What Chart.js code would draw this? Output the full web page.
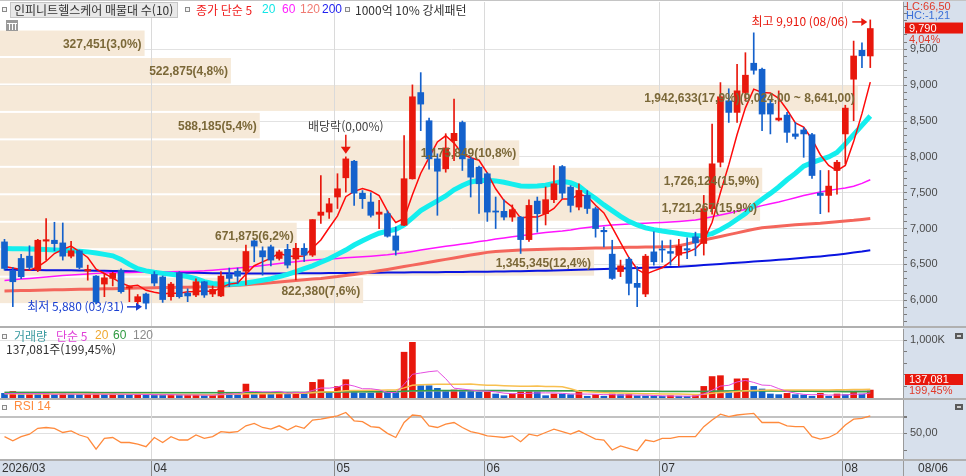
<!DOCTYPE html>
<html lang="ko">
<head>
<meta charset="utf-8">
<title>인피니트헬스케어</title>
<script src="https://cdn.jsdelivr.net/npm/chart.js@4.4.1/dist/chart.umd.min.js"></script>
<style>
html,body{margin:0;padding:0;background:#fff;}
#wrap{position:relative;width:966px;height:476px;overflow:hidden;background:#fff;}
#axisBg{position:absolute;left:903px;top:0;width:63px;height:476px;background:#d7e0ec;}
canvas{position:absolute;left:0;}
</style>
</head>
<body>
<div id="wrap">
<div id="axisBg"></div>
<canvas id="cMain" width="966" height="328" style="top:0px"></canvas>
<canvas id="cVol" width="966" height="71" style="top:328px"></canvas>
<canvas id="cRsi" width="966" height="77" style="top:399px"></canvas>
</div>
<script>
// ---------- DATA ----------
const monthLabels = ['2026/03','04','05','06','07','08'];
const monthStart  = [0,18,40,58,79,101];
const lastDate = '08/06';

const opens = [6814,6411,6583,6615,6420,6825,6837,6800,6615,6690, 6408,6337,6226,6305,6420,6170,5980,6087,6360,6325,
 6050,6383,6100,6073,6258,6087,6060,6360,6405,6405, 6828,6690,6745,6583,6710,6575,6725,6630,7185,7230,
 7440,7708,7939,7494,7370,7200,7208,6897,7046,7694, 8897,8504,7972,7833,8226,8480,7972,7856,7764,7245,
 7240,7160,7160,6846,7383,7208,7403,7865,7578,7300, 7463,7277,6975,6643,6400,6573,6236,6087,6675,6715,
 6680,6630,6720,6884,6792,7277,7925,8782,8620,8897, 9306,9222,8744,8514,8583,8320,8375,8310,7494,7462,
 7810,8320,9083,9486,9407];
const highs = [6850,6458,6640,6760,6850,7140,7088,7078,6823,6700, 6490,6345,6375,6390,6440,6200,6080,6100,6400,6340,
 6250,6400,6160,6300,6265,6200,6400,6450,6450,6770, 6835,6745,6770,6700,6780,6795,6790,7125,7740,7420,
 7765,8000,7950,7530,7500,7393,7250,7022,8296,9004, 9175,8540,8042,8323,8806,8500,8000,7870,7780,7440,
 7400,7330,7170,7400,7440,7580,7880,7880,7600,7625, 7530,7300,7022,6837,6560,6600,6470,6640,6955,6830,
 6840,6850,6870,6950,7462,8458,9036,8950,9292,9453, 9730,9240,8800,8920,8620,8480,8411,8330,7810,7810,
 7950,8720,9615,9590,9910];
const lows = [6420,5911,6300,6430,6400,6560,6690,6560,6590,6440, 6280,5950,6050,6200,6100,5980,5950,5880,6200,5970,
 6000,6030,5980,6050,6040,6050,6050,6190,6230,6215, 6537,6350,6480,6560,6450,6285,6540,6610,7070,7140,
 7280,7508,7323,7280,7160,7000,6880,6629,7040,7690, 8365,7830,7185,7786,7948,7810,7440,7212,7100,7000,
 7120,7100,6653,6820,6950,7050,7360,7420,7230,7260, 7210,6880,6745,6290,6330,6075,5911,6050,6490,6530,
 6490,6480,6580,6620,6630,7200,7860,8480,8480,8780, 9153,8365,8320,8500,8200,8250,7994,7700,7208,7230,
 7480,7900,8504,9245,9245];
const closes = [6444,6258,6328,6458,6837,6845,6790,6615,6690,6458, 6430,5975,6313,6375,6120,6190,6050,5960,6240,6010,
 6226,6050,6060,6258,6073,6152,6337,6305,6335,6680, 6755,6605,6560,6675,6490,6725,6630,7125,7230,7345,
 7555,7972,7494,7417,7185,7230,6893,6698,7695,8838, 8736,7972,7800,8125,8328,7972,7717,7625,7230,7230,
 7160,7264,6846,7323,7208,7403,7625,7494,7323,7532, 7280,7000,6955,6305,6480,6236,6180,6615,6537,6700,
 6655,6755,6700,6800,7277,7903,8838,8620,8921,9139, 9208,8597,8597,8541,8342,8286,8320,7740,7462,7592,
 7925,8680,9407,9410,9790];

const ma5 = [6470,6450,6430,6420,6465,6545,6652,6709,6755,6680, 6597,6434,6373,6310,6243,6195,6210,6139,6112,6090,
 6097,6097,6117,6121,6133,6119,6176,6225,6240,6362, 6482,6536,6587,6655,6617,6611,6616,6729,6840,7011,
 7177,7445,7519,7557,7525,7460,7244,7085,7140,7471, 7772,7988,8208,8294,8192,8039,7988,7953,7774,7555,
 7392,7302,7146,7165,7160,7209,7281,7411,7411,7475, 7451,7326,7219,7015,6805,6596,6432,6363,6410,6454,
 6536,6651,6668,6721,6836,7087,7504,7888,8312,8684, 8945,8897,8892,8816,8657,8473,8417,8246,8030,7880,
 7808,7880,8213,8603,9042];
const ma20 = [6722,6720,6718,6715,6712,6708,6702,6698,6692,6685, 6675,6660,6640,6620,6570,6500,6440,6410,6390,
 6375,6362,6350,6330,6300,6260,6235,6225,6222,6226,6240,6260,6280,6300,6330,6360,6400,6440,6480,6530,6580,6640,
 6700,6770,6830,6885,6935,6965,6990,7050,7150,7250,7320,7385,7455,7540,7600,7650,7670,
 7675,7665,7645,7620,7595,7590,7595,7605,7630,7660,7640,7590,
 7500,7420,7330,7250,7170,7100,7050,7010,6985,6965,6950,6930,6915,6900,
 6905,6930,6985,7050,7130,7210,7320,7410,7490,7580,7680,7770,7870,7920,7960,8000,8060,8180,8310,8440,8570];
const ma60 = [6275,6285,6295,6305,6315,6325,6335,6345,6352,6360,6367,6375,
 6380,6383,6386,6388,6390,6392,6394,6396,6398,6400,6402,6405,6410,6418,6428,6440,6450,
 6460,6472,6485,6498,6512,6525,6537,6550,6560,6568,6575,6583,
 6592,6600,6607,6615,6625,6635,6648,6662,6680,6700,6718,6736,6752,6768,6784,6800,6818,6835,6855,
 6870,6885,6900,6915,6930,6945,6955,6965,6980,7000,7015,7030,7040,7050,7058,7065,7070,7075,7080,7085,7092,
 7100,7110,7120,7140,7165,7190,7215,7240,7265,7290,7320,7345,7370,7400,7430,7460,7486,7510,7530,7550,7565,7590,7630,7681];
const ma120 = [6130,6132,6135,6137,6140,6142,6145,6147,6150,6152,6155,6157,6160,6162,6165,6167,6170,6172,6175,6177,6178,
 6180,6182,6185,6188,6192,6197,6203,6210,6218,6226,6235,6245,6255,6265,6275,6285,6295,6305,6318,6330,
 6345,6360,6378,6395,6412,6430,6450,6470,6490,6510,6530,6550,6570,6590,6610,6630,6650,6668,
 6680,6688,6695,6700,6704,6708,6711,6714,6717,6720,6722,6725,6728,6730,6733,6736,6738,6740,6742,6744,6745,6748,
 6760,6785,6814,6840,6865,6890,6915,6940,6965,6990,7010,7022,7032,7042,7052,7060,7068,7075,7085,7095,7105,7115,7128,7140];
const ma200 = [6425,6424,6423,6422,6421,6420,6419,6418,6417,6416,6415,6413,6411,6409,6407,6404,6401,6398,6395,6392,6389,
 6386,6384,6382,6380,6378,6376,6375,6374,6373,6372,6372,6372,6373,6374,6375,6376,6377,6378,6379,6380,
 6381,6382,6383,6384,6385,6386,6387,6388,6389,6390,6391,6392,6393,6394,6395,6396,6397,6398,
 6400,6402,6404,6406,6408,6410,6412,6415,6418,6421,6424,6428,6432,6436,6440,6444,6447,6450,6453,6456,6460,6463,
 6467,6475,6483,6491,6499,6507,6515,6523,6531,6539,6547,6555,6564,6573,6582,6592,6602,6612,6624,6636,6650,6665,6680,6698];

// volume in thousand shares
const volumeK = [80,115,58,69,65,75,60,75,65,60, 70,75,60,70,58,55,65,60,55,50,
 60,45,50,55,40,45,127,80,60,240, 60,90,80,100,95,100,80,270,316,85,
 200,316,115,85,85,100,100,95,790,960, 212,212,167,115,138,135,115,98,100,69,
 40,69,109,112,108,40,69,66,58,109, 30,58,30,69,58,60,38,35,30,28,
 40,30,28,40,200,370,385,98,330,335, 200,155,69,58,80,58,52,30,80,30,
 69,58,98,68.729,137.081];
const vma5 = [75,78,76,74,77,76,65,69,68,67, 66,69,66,67,67,64,62,62,59,57,
 58,54,52,52,50,47,63,69,70,110, 113,106,106,114,85,93,91,129,172,170,
 190,237,206,160,160,140,97,93,234,409, 431,454,468,333,169,155,136,122,119,105,
 84,75,77,79,88,88,88,80,70,69, 67,65,57,59,49,55,49,51,43,38,
 34,34,32,34,68,134,205,219,277,303, 269,223,217,162,112,84,63,56,60,50,
 52,53,67,65,86];
const vma20 = [72,72,71,71,70,70,70,69,69,68, 68,67,67,66,66,65,64,63,62,62, 61,60,59,59,58,58,
 62,63,63,72,72,74,75,77,79,81,82,
 92,105,106,113,126,129,130,132,134,137, 139,175,220,228,234,237,235,237,239,240,
 230,222,221,213,206,202,204,205,200,197, 195,158,115,106,98,91,89,86,82,78,
 75,72,70,69,67,63,60,64,80,96, 98,112,123,131,135,136,135,136,136,137,
 137,139,139,141,142,145,147,152];
const vma60 = [95,95,95,94,94,94,94,93,93,93, 93,92,92,92,92,91,91,91,91,90, 90,90,90,89,89,89,90,90,90,91, 91,92,92,93,93,94,94,
 97,100,101,103,107,108,108,109,109,110,110,117,126,127,128,128,129,129,130,130,130,130,129,128,
 127,127,127,127,126,126,125,125,124,123, 122,121,120,119,118,117,116,115,114,113,
 112,111,110,112,116,120,120,123,125,124, 122,121,120,119,118,117,115,113,112,110, 109,108,108,109];
const vma120 = [101,101,101,101,100,100,100,100,100,100, 100,100,99,99,99,99,99,99,99,99,
 98,98,98,98,98,98,98,98,98,99, 99,99,99,99,99,99,99,100,101,101,
 102,103,103,103,103,103,103,103,109,116, 117,118,118,118,118,119,119,119,119,119,
 119,119,119,119,119,119,119,119,119,119, 118,118,118,118,117,117,117,117,116,116,
 116,116,115,115,116,118,121,121,124,126, 127,127,127,127,127,127,127,126,126,126,
 126,126,126,126,127];

const rsi14 = [46,41,46,49,56,57,56,51,53,48, 45,31,44,45,39,39,37,34,45,39,
 46,42,42,48,44,46,52,51,52,59, 62,57,55,59,54,59,56,66,67,69,
 71,75,65,64,58,57,50,45,63,72, 71,59,57,61,63,57,52,50,47,46,
 45,47,40,49,47,51,55,52,49,53, 48,43,42,30,35,32,29,42,40,44,
 44,46,46,46,58,66,73,70,72,73, 74,63,63,63,59,58,58,46,43,45,
 50,60,67,68,71];

const priceTicks = [6000,6500,7000,7500,8000,8500,9000,9500];
const volTickLabel = 1000;
const rsiTickLabel = 50;

// 매물대 (volume profile, 10 bands from top)
const profileVol = [327451,522875,1942633,588185,1175849,1726124,1721267,671875,1345345,822380];
const profilePct = [3.0,4.8,17.9,5.4,10.8,15.9,15.9,6.2,12.4,7.6];
const profileHigh = 9790, profileLow = 5960;

const lcValue = 66.50, hcValue = -1.21, changePct = 4.04, volChangePct = 199.45;
const highIdx = 104, lowIdx = 17, exDivIdx = 41;

// ---------- HELPERS ----------
const FONT = "'Liberation Sans','Noto Sans CJK KR',sans-serif";
const KFONT = "'Noto Sans CJK KR','Liberation Sans',sans-serif";
const XMIN = -0.54, XMAX = 107.93;
const idx = closes.map((_,i)=>i);
const pts = arr => arr.map((v,i)=>({x:i,y:v}));
const UP = '#e8170c', DN = '#1461cc';
const candleColor = idx.map(i => closes[i] >= opens[i] ? UP : DN);
const volColor = volumeK.map((v,i) => (i>0 && v > volumeK[i-1]) ? UP : DN);
function comma(n){ return String(Math.round(n)).replace(/\B(?=(\d{3})+(?!\d))/g, ','); }
function dec(n,d){ const p = Math.abs(n).toFixed(d).split('.'); return (n<0?'-':'') + comma(+p[0]) + ',' + p[1]; }
function txt(ctx,s,x,y,color,font,align){ ctx.font=font; ctx.fillStyle=color; ctx.textAlign=align||'left'; ctx.textBaseline='middle'; ctx.fillText(s,x,y); }
function icon(ctx,x,y){ ctx.fillStyle='#f4f4f4'; ctx.fillRect(x,y,5,5); ctx.strokeStyle='#8a8a8a'; ctx.lineWidth=1; ctx.strokeRect(x+0.5,y+0.5,4,4); }
function line(arr,color,w,order){ return {type:'line', data:pts(arr), borderColor:color, borderWidth:w, pointRadius:0, fill:false, tension:0, order:order}; }
function fitAxis(s){ s.width = 63; s.paddingTop = 0; s.paddingBottom = 0; }
function monthLines(chart,y0,y1,color){
  const x = chart.scales.x, ctx = chart.ctx;
  ctx.save(); ctx.strokeStyle=color; ctx.lineWidth=1;
  monthStart.slice(1).forEach(m=>{ const px=Math.round(x.getPixelForValue(m-0.4))+0.5; ctx.beginPath(); ctx.moveTo(px,y0); ctx.lineTo(px,y1); ctx.stroke(); });
  ctx.restore();
}
function arrowRight(ctx,x0,x1,y,color){
  ctx.strokeStyle=color; ctx.fillStyle=color; ctx.lineWidth=1.5;
  ctx.beginPath(); ctx.moveTo(x0,y); ctx.lineTo(x1-5,y); ctx.stroke();
  ctx.beginPath(); ctx.moveTo(x1,y); ctx.lineTo(x1-6,y-4); ctx.lineTo(x1-6,y+4); ctx.closePath(); ctx.fill();
}
function smallBox(ctx,x,y){ ctx.fillStyle='#5a5a5a'; ctx.fillRect(x,y,8,6); ctx.fillStyle='#cfcfcf'; ctx.fillRect(x+2,y+2,4,2); }
const baseOpts = () => ({ responsive:false, animation:false, events:[],
  plugins:{legend:{display:false}, tooltip:{enabled:false}} });

// ---------- MAIN PRICE CHART ----------
const mainDeco = {
  id:'mainDeco',
  beforeDatasetsDraw(chart){
    const {ctx, chartArea:a, scales:{y}} = chart;
    const step = (profileHigh-profileLow)/profileVol.length, maxV = Math.max(...profileVol);
    ctx.save(); ctx.fillStyle='#f6e9d8';
    profileVol.forEach((v,k)=>{
      const t = y.getPixelForValue(profileHigh-k*step)+2, b = y.getPixelForValue(profileHigh-(k+1)*step);
      ctx.fillRect(a.left, t, v/maxV*a.width*0.95, b-t);
    });
    ctx.restore();
    monthLines(chart, a.top, a.bottom, '#dadada');
  },
  afterDatasetsDraw(chart){
    const {ctx, chartArea:a, scales:{x,y}} = chart;
    const step = (profileHigh-profileLow)/profileVol.length, maxV = Math.max(...profileVol);
    ctx.save();
    profileVol.forEach((v,k)=>{
      const hi = profileHigh-k*step, lo = hi-step;
      const t = y.getPixelForValue(hi)+2, b = y.getPixelForValue(lo);
      let s = comma(v)+'('+dec(profilePct[k],1)+'%)';
      if (v === maxV) s += '('+dec(hi,2)+' ~ '+dec(lo,2)+')';
      txt(ctx, s, a.left+v/maxV*a.width*0.95-3, (t+b)/2+1, '#7b6838', 'bold 12px '+FONT, 'right');
    });
    // 배당락
    const ex = x.getPixelForValue(exDivIdx), tip = y.getPixelForValue(highs[exDivIdx])-3;
    ctx.strokeStyle=UP; ctx.fillStyle=UP; ctx.lineWidth=1.5;
    ctx.beginPath(); ctx.moveTo(ex,tip-19); ctx.lineTo(ex,tip-6); ctx.stroke();
    ctx.beginPath(); ctx.moveTo(ex-5,tip-7); ctx.lineTo(ex+5,tip-7); ctx.lineTo(ex,tip); ctx.closePath(); ctx.fill();
    txt(ctx, '배당락(0,00%)', ex, tip-27, '#444', '12px '+KFONT, 'center');
    // 최고
    const hx = x.getPixelForValue(highIdx), hy = y.getPixelForValue(highs[highIdx])+2;
    arrowRight(ctx, hx-18, hx-3, hy, UP);
    txt(ctx, '최고 '+comma(highs[highIdx])+' (08/06)', hx-22, hy, UP, '12px '+KFONT, 'right');
    // 최저
    const lx = x.getPixelForValue(lowIdx), ly = y.getPixelForValue(lows[lowIdx])-2;
    arrowRight(ctx, lx-19, lx-4, ly, '#1a3fd0');
    txt(ctx, '최저 '+comma(lows[lowIdx])+' (03/31)', lx-22, ly, '#1a3fd0', '12px '+KFONT, 'right');
    ctx.restore();
  },
  afterDraw(chart){
    const {ctx, chartArea:a, scales:{y}} = chart;
    ctx.save();
    ctx.fillStyle='#c4c4c4'; ctx.fillRect(0,0,966,1);
    ctx.fillStyle='#b0b0b0'; ctx.fillRect(0,a.bottom,966,2);
    // legend
    icon(ctx,2,7);
    ctx.fillStyle='#e8e8e8'; ctx.fillRect(10,2,168,16); ctx.strokeStyle='#c6c6c6'; ctx.lineWidth=1; ctx.strokeRect(10.5,2.5,167,15);
    txt(ctx,'인피니트헬스케어 매물대 수(10)',14,10,'#333','12px '+KFONT);
    icon(ctx,185,7);
    txt(ctx,'종가 단순 5',196,10,'#f01c1c','12px '+KFONT);
    txt(ctx,'20',262,10,'#12e6e6','12px '+FONT);
    txt(ctx,'60',282,10,'#ff20ff','12px '+FONT);
    txt(ctx,'120',300,10,'#f07a72','12px '+FONT);
    txt(ctx,'200',322,10,'#2222f0','12px '+FONT);
    icon(ctx,345,7);
    txt(ctx,'1000억 10% 강세패턴',355,10,'#333','12px '+KFONT);
    // grid icon
    ctx.fillStyle='#9a9a9a'; ctx.fillRect(6,20,12,11); ctx.strokeStyle='#fff'; ctx.lineWidth=1;
    for (let k=1;k<4;k++){ ctx.beginPath(); ctx.moveTo(6+k*3+0.5,23); ctx.lineTo(6+k*3+0.5,30); ctx.stroke(); }
    ctx.beginPath(); ctx.moveTo(7,23.5); ctx.lineTo(17,23.5); ctx.stroke();
    // right axis info
    txt(ctx,'LC:'+dec(lcValue,2),906,7,'#e03a2a','11px '+FONT);
    txt(ctx,'HC:'+dec(hcValue,2),906,16,'#3a6fd8','11px '+FONT);
    const py = y.getPixelForValue(closes[closes.length-1]);
    ctx.fillStyle=UP; ctx.fillRect(905,py-6,58,11);
    txt(ctx,comma(closes[closes.length-1]),909,py,'#fff','11px '+FONT);
    txt(ctx,dec(changePct,2)+'%',909,py+11,'#e03a2a','11px '+FONT);
    ctx.restore();
  }
};

new Chart(document.getElementById('cMain'), {
  type:'bar',
  data:{ datasets:[
    {type:'bar', data: idx.map(i=>({x:i, y:[lows[i],highs[i]]})), backgroundColor:candleColor, barThickness:1, grouped:false, order:1},
    {type:'bar', data: idx.map(i=>({x:i, y:[opens[i],closes[i]]})), backgroundColor:candleColor, barThickness:6, grouped:false, order:0},
    line(ma5,'#ff0a0a',1.5,2),
    line(ma20,'#14eeee',5,3),
    line(ma60,'#ff14ff',1.5,4),
    line(ma120,'#f4665c',3,5),
    line(ma200,'#0a14e0',2,6)
  ]},
  options: Object.assign(baseOpts(), {
    layout:{padding:{top:2,bottom:2,left:0,right:0}},
    scales:{
      x:{type:'linear', min:XMIN, max:XMAX, display:false, offset:false},
      y:{type:'linear', position:'right', min:5641, max:10160,
        afterFit: fitAxis,
        afterBuildTicks(s){ const t=[]; for (let v=priceTicks[0]-300; v<=priceTicks[priceTicks.length-1]+600; v+=100) t.push({value:v}); s.ticks=t; },
        ticks:{ autoSkip:false, callback:v => priceTicks.includes(v) ? comma(v) : '', color:'#4a4a4a', font:{family:FONT,size:11}, padding:3 },
        grid:{ color:c => (c.tick && priceTicks.includes(c.tick.value)) ? '#e2e2e2' : 'rgba(0,0,0,0)', tickColor:'#7a7a7a', tickLength:4 },
        border:{color:'#9a9a9a'}
      }
    }
  }),
  plugins:[mainDeco]
});

// ---------- VOLUME CHART ----------
const volDeco = {
  id:'volDeco',
  beforeDatasetsDraw(chart){ const a=chart.chartArea; monthLines(chart,a.top,a.bottom,'#dadada'); },
  afterDraw(chart){
    const {ctx, chartArea:a} = chart;
    ctx.save();
    ctx.fillStyle='#b0b0b0'; ctx.fillRect(0,a.bottom,966,1);
    icon(ctx,2,6);
    txt(ctx,'거래량',14,8,'#3a9aa0','12px '+KFONT);
    txt(ctx,'단순 5',56,8,'#e040d8','12px '+KFONT);
    txt(ctx,'20',95,8,'#f0a830','12px '+FONT);
    txt(ctx,'60',113,8,'#2e9a40','12px '+FONT);
    txt(ctx,'120',133,8,'#8a8a8a','12px '+FONT);
    const last = volumeK[volumeK.length-1]*1000;
    txt(ctx,comma(last)+'주('+dec(volChangePct,2)+'%)',6,21,'#333','12px '+KFONT);
    smallBox(ctx,955,5);
    ctx.fillStyle=UP; ctx.fillRect(905,46,58,11);
    txt(ctx,comma(last),909,52,'#fff','11px '+FONT);
    txt(ctx,dec(volChangePct,2)+'%',909,63,'#e03a2a','11px '+FONT);
    ctx.restore();
  }
};
new Chart(document.getElementById('cVol'), {
  type:'bar',
  data:{ datasets:[
    {type:'bar', data: pts(volumeK), backgroundColor:volColor, barThickness:6, grouped:false, order:5},
    line(vma5,'#e44ee0',1,1),
    line(vma20,'#f8c050',1.5,2),
    line(vma60,'#34a048',1.5,3),
    line(vma120,'#a0a0a0',1,4)
  ]},
  options: Object.assign(baseOpts(), {
    layout:{padding:{top:1,bottom:1,left:0,right:0}},
    scales:{
      x:{type:'linear', min:XMIN, max:XMAX, display:false, offset:false},
      y:{type:'linear', position:'right', min:0, max:1190,
        afterFit: fitAxis,
        afterBuildTicks(s){ s.ticks=[200,400,600,800,1000].map(v=>({value:v})); },
        ticks:{ autoSkip:false, callback:v => v===volTickLabel ? comma(v)+'K' : '', color:'#4a4a4a', font:{family:FONT,size:11}, padding:3 },
        grid:{ color:c => (c.tick && c.tick.value===volTickLabel) ? '#e2e2e2' : 'rgba(0,0,0,0)', tickColor:'#7a7a7a', tickLength:4 },
        border:{color:'#9a9a9a'}
      }
    }
  }),
  plugins:[volDeco]
});

// ---------- RSI CHART + DATE BAR ----------
const rsiDeco = {
  id:'rsiDeco',
  beforeDatasetsDraw(chart){ const a=chart.chartArea; monthLines(chart,a.top,a.bottom,'#dadada'); },
  afterDraw(chart){
    const {ctx, chartArea:a, scales:{x}} = chart;
    ctx.save();
    ctx.fillStyle='#b0b0b0'; ctx.fillRect(0,0,966,1);
    icon(ctx,2,6);
    txt(ctx,'RSI 14',14,8,'#ff8a3c','12px '+FONT);
    smallBox(ctx,955,5);
    // date bar
    ctx.fillStyle='#b0b0b0'; ctx.fillRect(0,a.bottom,966,2);
    ctx.fillStyle='#d7e0ec'; ctx.fillRect(0,a.bottom+2,966,77-a.bottom-2);
    ctx.strokeStyle='#9a9a9a'; ctx.lineWidth=1;
    ctx.beginPath(); ctx.moveTo(903.5,a.bottom+2); ctx.lineTo(903.5,77); ctx.stroke();
    monthStart.forEach((m,k)=>{
      const px = k===0 ? 0 : Math.round(x.getPixelForValue(m-0.4))+0.5;
      if (k>0){ ctx.strokeStyle='#8a8a8a'; ctx.beginPath(); ctx.moveTo(px,a.bottom+2); ctx.lineTo(px,77); ctx.stroke(); }
      txt(ctx, monthLabels[k], px+2, a.bottom+10, '#333', '12px '+FONT);
    });
    txt(ctx, lastDate, 918, a.bottom+10, '#333', '12px '+FONT);
    ctx.restore();
  }
};
new Chart(document.getElementById('cRsi'), {
  type:'line',
  data:{ datasets:[ {data: pts(rsi14), borderColor:'#ff8a3c', borderWidth:1.3, pointRadius:0, fill:false, tension:0} ]},
  options: Object.assign(baseOpts(), {
    layout:{padding:{top:1,bottom:17,left:0,right:0}},
    scales:{
      x:{type:'linear', min:XMIN, max:XMAX, display:false, offset:false},
      y:{type:'linear', position:'right', min:19.2, max:90,
        afterFit: fitAxis,
        afterBuildTicks(s){ s.ticks=[30,50,70].map(v=>({value:v})); },
        ticks:{ autoSkip:false, callback:v => v===rsiTickLabel ? dec(v,2) : '', color:'#4a4a4a', font:{family:FONT,size:11}, padding:3 },
        grid:{ color:c => !c.tick ? 'rgba(0,0,0,0)' : (c.tick.value===70 ? '#c2c2c2' : (c.tick.value===50 ? '#e0e0e0' : 'rgba(0,0,0,0)')),
               lineWidth:c => (c.tick && c.tick.value===70) ? 2 : 1, tickColor:'#7a7a7a', tickLength:4 },
        border:{color:'#9a9a9a'}
      }
    }
  }),
  plugins:[rsiDeco]
});
</script>
</body>
</html>
